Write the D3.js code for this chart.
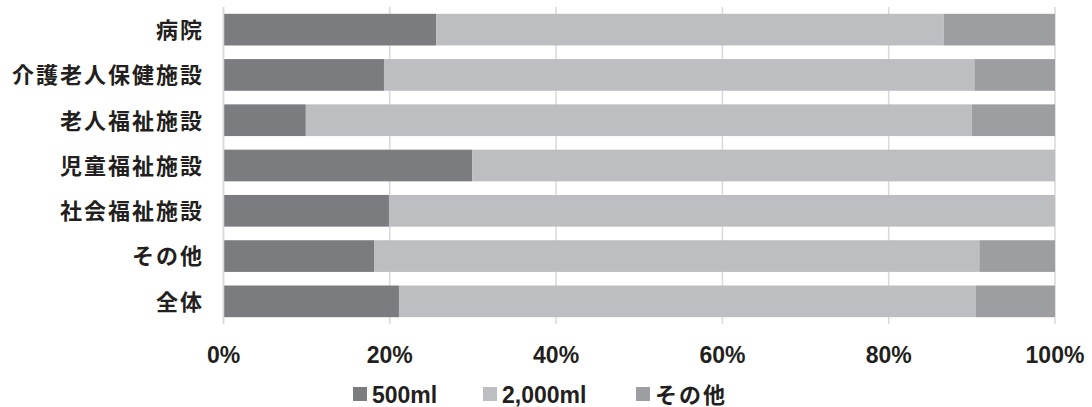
<!DOCTYPE html>
<html>
<head>
<meta charset="utf-8">
<script src="https://cdn.jsdelivr.net/npm/d3@7"></script>
<style>
  html, body { margin: 0; padding: 0; background: #fff; }
  svg { display: block; }
</style>
</head>
<body>
<svg id="chart" width="1092" height="407"></svg>
<script>
// Facility types (top to bottom)
const categories = ["病院", "介護老人保健施設", "老人福祉施設", "児童福祉施設", "社会福祉施設", "その他", "全体"];
// Share of each container size (%)
const seriesNames = ["500ml", "2,000ml", "その他"];
const v500 = [25.6, 19.3, 9.9, 29.9, 19.9, 18.1, 21.1];
const v2000 = [61.0, 71.0, 80.1, 70.1, 80.1, 72.8, 69.4];
const vOther = [13.4, 9.7, 10.0, 0, 0, 9.1, 9.5];
const tickValues = [0, 0.2, 0.4, 0.6, 0.8, 1.0];

const colors = ["#7b7c80", "#bdbec2", "#9d9ea2"];

const rows = categories.map((c, i) => ({ cat: c, "500ml": v500[i], "2,000ml": v2000[i], "その他": vOther[i] }));

const svg = d3.select("#chart");
const margin = { left: 223.5, right: 37, top: 7, bottom: 83 };
const W = 1092, H = 407;

const x = d3.scaleLinear().domain([0, 1]).range([margin.left, W - margin.right]);
const y = d3.scaleBand().domain(categories).range([margin.top, H - margin.bottom]).paddingInner(0.3).paddingOuter(0.15);

// Gridlines
svg.append("g")
  .selectAll("line")
  .data(tickValues)
  .join("line")
  .attr("x1", d => x(d)).attr("x2", d => x(d))
  .attr("y1", margin.top).attr("y2", H - margin.bottom)
  .attr("stroke", "#d9d9d9").attr("stroke-width", 1.5);

// Stacked bars (percent of row total)
const stack = d3.stack().keys(seriesNames)
  .offset(d3.stackOffsetExpand);
const layers = stack(rows);

svg.append("g")
  .selectAll("g")
  .data(layers)
  .join("g")
  .attr("fill", (d, i) => colors[i])
  .selectAll("rect")
  .data(d => d)
  .join("rect")
  .attr("x", d => x(d[0]))
  .attr("width", d => Math.max(0, x(d[1]) - x(d[0])))
  .attr("y", d => y(d.data.cat))
  .attr("height", y.bandwidth());

// Left axis line
svg.append("line")
  .attr("x1", x(0)).attr("x2", x(0))
  .attr("y1", margin.top).attr("y2", H - margin.bottom)
  .attr("stroke", "#d9d9d9").attr("stroke-width", 1.5);

const fontJP = "'Noto Sans CJK JP', 'Noto Sans', sans-serif";
const fontLatin = "'Liberation Sans', Arial, sans-serif";

// Category labels
svg.append("g")
  .selectAll("text")
  .data(categories)
  .join("text")
  .attr("x", 204)
  .attr("y", d => y(d) + y.bandwidth() / 2)
  .attr("dy", "0.38em")
  .attr("text-anchor", "end")
  .attr("font-family", fontJP)
  .attr("font-weight", "bold")
  .attr("font-size", 22)
  .attr("letter-spacing", 2)
  .attr("fill", "#231f20")
  .text(d => d);

// Percent axis labels
svg.append("g")
  .selectAll("text")
  .data(tickValues)
  .join("text")
  .attr("x", d => x(d))
  .attr("y", 363)
  .attr("text-anchor", "middle")
  .attr("font-family", fontLatin)
  .attr("font-weight", "bold")
  .attr("font-size", 23)
  .attr("fill", "#231f20")
  .text(d3.format(".0%"));

// Legend
const legendX = [353, 483, 636];
const legend = svg.append("g")
  .selectAll("g")
  .data(seriesNames)
  .join("g")
  .attr("transform", (d, i) => `translate(${legendX[i]},387)`);
legend.append("rect")
  .attr("width", 14).attr("height", 14)
  .attr("fill", (d, i) => colors[i]);
legend.append("text")
  .attr("x", 19).attr("y", 15.5)
  .attr("font-family", (d, i) => i === 2 ? fontJP : fontLatin)
  .attr("font-weight", "bold")
  .attr("font-size", (d, i) => i === 2 ? 22 : 23)
  .attr("letter-spacing", (d, i) => i === 2 ? 2 : 0)
  .attr("fill", "#231f20")
  .text(d => d);
</script>
</body>
</html>
